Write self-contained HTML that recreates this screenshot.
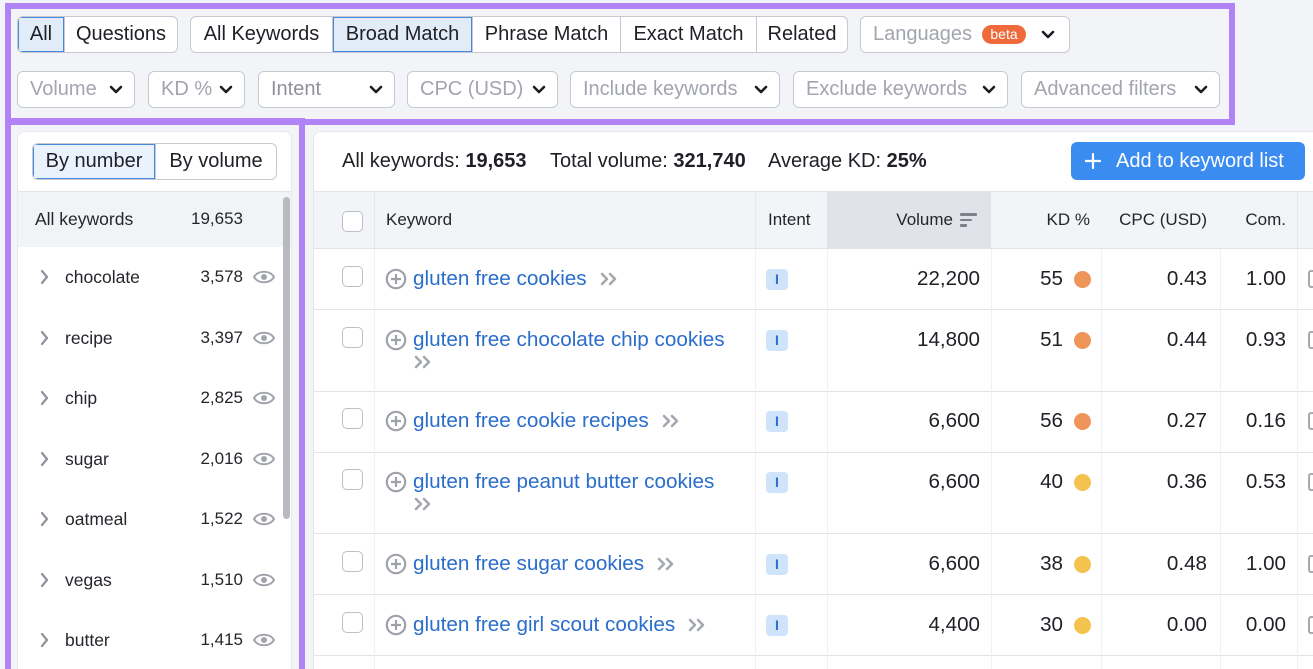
<!DOCTYPE html>
<html><head><meta charset="utf-8">
<style>
*{box-sizing:border-box}
html,body{margin:0;padding:0;width:1313px;height:669px;overflow:hidden}
body{background:#f3f4f8;font-family:"Liberation Sans",Arial,sans-serif;color:#1e2026}
#root{position:relative;width:1313px;height:669px;overflow:hidden;background:#f3f4f8}
.a{position:absolute}
.t{position:absolute;white-space:nowrap;line-height:24px;height:24px}
.grp{position:absolute;display:flex;border:1px solid #c6c9d1;border-radius:6px;background:#fff;overflow:hidden;height:37px}
.seg{display:flex;align-items:center;justify-content:center;font-size:20px;color:#1e2026;border-left:1px solid #c6c9d1;height:100%;white-space:nowrap}
.seg:first-child{border-left:none}
.sel{background:#e2ebf8;box-shadow:inset 0 0 0 1px #4688de}
.dd{position:absolute;height:37px;border:1px solid #c6c9d1;border-radius:6px;background:#fff;top:71px}
.dd .l{position:absolute;left:12px;top:4px;font-size:20px;line-height:26px;color:#a2a5ae;white-space:nowrap}
.dd svg{position:absolute;right:11px;top:13px}
.sb{font-size:17.5px;color:#24262c}
.sn{font-size:17px;color:#24262c}
.hd{font-size:17px;color:#24262c}
.kw{font-size:20.7px;color:#2a6dcb}
.num{font-size:20.6px;color:#1e2026}
.cb{position:absolute;width:21px;height:21px;border:1.5px solid #bcbfc7;border-radius:5px;background:#fff}
.hl{position:absolute;height:1px;background:#e3e4e9;left:314px;width:999px}
.vl{position:absolute;width:1px;background:#f0f1f4;top:249px;height:420px}
.ib{position:absolute;width:22px;height:21px;border-radius:4px;background:#cfe3fa;color:#2f6ecb;font-size:14px;font-weight:bold;text-align:center;line-height:21px}
.dot{position:absolute;width:17px;height:17px;border-radius:50%}
.pi{position:absolute;left:1308px;width:16px;height:18px;border:2px solid #a7a9b1;border-radius:3px}
.pur{position:absolute;border:6px solid #b283f6}
</style></head><body><div id="root">

<!-- top controls -->
<div class="grp" style="left:17px;top:16px;width:161px">
 <div class="seg sel" style="width:46px">All</div>
 <div class="seg" style="width:113px">Questions</div>
</div>
<div class="grp" style="left:190px;top:16px;width:658px">
 <div class="seg" style="width:141px">All Keywords</div>
 <div class="seg sel" style="width:140px">Broad Match</div>
 <div class="seg" style="width:148px">Phrase Match</div>
 <div class="seg" style="width:136px">Exact Match</div>
 <div class="seg" style="width:91px">Related</div>
</div>
<div class="dd" style="left:860px;top:16px;width:210px">
 <span class="l">Languages</span>
 <span class="a" style="left:121px;top:8px;width:44px;height:19px;border-radius:10px;background:#ef6a3a;color:#fff;font-size:14px;line-height:19px;text-align:center">beta</span>
 <svg width="14" height="9" viewBox="0 0 14 9" style="right:14px"><path d="M2 2l5 5 5-5" fill="none" stroke="#1c1d22" stroke-width="2.6" stroke-linecap="round" stroke-linejoin="round"/></svg>
</div>

<div class="dd" style="left:17px;width:118px"><span class="l">Volume</span><svg width="14" height="9" viewBox="0 0 14 9"><path d="M2 2l5 5 5-5" fill="none" stroke="#1c1d22" stroke-width="2.6" stroke-linecap="round" stroke-linejoin="round"/></svg></div>
<div class="dd" style="left:148px;width:97px"><span class="l">KD %</span><svg width="14" height="9" viewBox="0 0 14 9"><path d="M2 2l5 5 5-5" fill="none" stroke="#1c1d22" stroke-width="2.6" stroke-linecap="round" stroke-linejoin="round"/></svg></div>
<div class="dd" style="left:258px;width:137px"><span class="l" style="color:#8f929b">Intent</span><svg width="14" height="9" viewBox="0 0 14 9"><path d="M2 2l5 5 5-5" fill="none" stroke="#1c1d22" stroke-width="2.6" stroke-linecap="round" stroke-linejoin="round"/></svg></div>
<div class="dd" style="left:407px;width:151px"><span class="l">CPC (USD)</span><svg width="14" height="9" viewBox="0 0 14 9"><path d="M2 2l5 5 5-5" fill="none" stroke="#1c1d22" stroke-width="2.6" stroke-linecap="round" stroke-linejoin="round"/></svg></div>
<div class="dd" style="left:570px;width:210px"><span class="l">Include keywords</span><svg width="14" height="9" viewBox="0 0 14 9"><path d="M2 2l5 5 5-5" fill="none" stroke="#1c1d22" stroke-width="2.6" stroke-linecap="round" stroke-linejoin="round"/></svg></div>
<div class="dd" style="left:793px;width:215px"><span class="l">Exclude keywords</span><svg width="14" height="9" viewBox="0 0 14 9"><path d="M2 2l5 5 5-5" fill="none" stroke="#1c1d22" stroke-width="2.6" stroke-linecap="round" stroke-linejoin="round"/></svg></div>
<div class="dd" style="left:1021px;width:199px"><span class="l">Advanced filters</span><svg width="14" height="9" viewBox="0 0 14 9"><path d="M2 2l5 5 5-5" fill="none" stroke="#1c1d22" stroke-width="2.6" stroke-linecap="round" stroke-linejoin="round"/></svg></div>

<!-- sidebar -->
<div class="a" style="left:17px;top:131px;width:275px;height:560px;background:#fff;border-radius:8px;border:1px solid #e8e9ed"></div>
<div class="grp" style="left:32px;top:143px;width:245px">
 <div class="seg sel" style="width:122px;background:#eaf2fd">By number</div>
 <div class="seg" style="width:121px">By volume</div>
</div>
<div class="a" style="left:18px;top:191px;width:273px;height:1px;background:#e3e4e9"></div>
<div class="a" style="left:18px;top:192px;width:273px;height:55px;background:#f2f3f7"></div>
<span class="t sb" style="left:35px;top:207px">All keywords</span>
<span class="t sn" style="right:1070px;top:207px">19,653</span>
<div class="a" style="left:283px;top:197px;width:7px;height:322px;border-radius:4px;background:#b9bac0"></div>

<svg class="a" style="left:0;top:0" width="300" height="669">
 <g fill="none" stroke="#8f929a" stroke-width="2.2" stroke-linecap="round" stroke-linejoin="round">
  <path d="M42 271l5 6-5 6"/><path d="M42 332l5 6-5 6"/><path d="M42 392l5 6-5 6"/><path d="M42 453l5 6-5 6"/><path d="M42 513l5 6-5 6"/><path d="M42 574l5 6-5 6"/><path d="M42 634l5 6-5 6"/>
 </g>
 <g fill="none" stroke="#a2a4ac" stroke-width="2">
  <path d="M254 277C258 270 270 270 274 277C270 284 258 284 254 277Z"/>
  <path d="M254 338C258 331 270 331 274 338C270 345 258 345 254 338Z"/>
  <path d="M254 398C258 391 270 391 274 398C270 405 258 405 254 398Z"/>
  <path d="M254 459C258 452 270 452 274 459C270 466 258 466 254 459Z"/>
  <path d="M254 519C258 512 270 512 274 519C270 526 258 526 254 519Z"/>
  <path d="M254 580C258 573 270 573 274 580C270 587 258 587 254 580Z"/>
  <path d="M254 640C258 633 270 633 274 640C270 647 258 647 254 640Z"/>
 </g>
 <g fill="#a2a4ac">
  <circle cx="264" cy="277" r="3"/><circle cx="264" cy="338" r="3"/><circle cx="264" cy="398" r="3"/><circle cx="264" cy="459" r="3"/><circle cx="264" cy="519" r="3"/><circle cx="264" cy="580" r="3"/><circle cx="264" cy="640" r="3"/>
 </g>
</svg>
<span class="t sb" style="left:65px;top:265px">chocolate</span><span class="t sn" style="right:1070px;top:265px">3,578</span>
<span class="t sb" style="left:65px;top:326px">recipe</span><span class="t sn" style="right:1070px;top:326px">3,397</span>
<span class="t sb" style="left:65px;top:386px">chip</span><span class="t sn" style="right:1070px;top:386px">2,825</span>
<span class="t sb" style="left:65px;top:447px">sugar</span><span class="t sn" style="right:1070px;top:447px">2,016</span>
<span class="t sb" style="left:65px;top:507px">oatmeal</span><span class="t sn" style="right:1070px;top:507px">1,522</span>
<span class="t sb" style="left:65px;top:568px">vegas</span><span class="t sn" style="right:1070px;top:568px">1,510</span>
<span class="t sb" style="left:65px;top:628px">butter</span><span class="t sn" style="right:1070px;top:628px">1,415</span>

<!-- table card -->
<div class="a" style="left:313px;top:131px;width:1010px;height:560px;background:#fff;border-radius:8px;border:1px solid #e5e6ea"></div>
<span class="t" style="left:342px;top:149px;font-size:20px">All keywords: <b>19,653</b></span>
<span class="t" style="left:550px;top:149px;font-size:20px">Total volume: <b>321,740</b></span>
<span class="t" style="left:768px;top:149px;font-size:20px">Average KD: <b>25%</b></span>
<div class="a" style="left:1071px;top:142px;width:234px;height:38px;border-radius:6px;background:#3b8cf0"></div>
<svg class="a" style="left:1085px;top:153px" width="16" height="16"><path d="M8 1v14M1 8h14" stroke="#fff" stroke-width="2.2" stroke-linecap="round"/></svg>
<span class="t" style="left:1116px;top:149px;font-size:20px;color:#fff">Add to keyword list</span>

<!-- header -->
<div class="a" style="left:314px;top:191px;width:999px;height:58px;background:#f3f4f8;border-top:1px solid #e3e4e9;border-bottom:1px solid #e1e2e7"></div>
<div class="a" style="left:827px;top:192px;width:164px;height:56px;background:#e2e3ea"></div>
<div class="a" style="left:374px;top:192px;width:1px;height:56px;background:#e8e9ed"></div>
<div class="a" style="left:755px;top:192px;width:1px;height:56px;background:#e8e9ed"></div>
<div class="cb" style="left:342px;top:211px"></div>
<span class="t hd" style="left:386px;top:208px">Keyword</span>
<span class="t hd" style="left:768px;top:208px">Intent</span>
<span class="t hd" style="right:360px;top:208px">Volume</span>
<div class="a" style="left:960px;top:213px;width:17px;height:2.5px;background:#7e8189;border-radius:1px"></div>
<div class="a" style="left:960px;top:218.5px;width:12px;height:2.5px;background:#7e8189;border-radius:1px"></div>
<div class="a" style="left:960px;top:224px;width:7px;height:2.5px;background:#7e8189;border-radius:1px"></div>
<span class="t hd" style="right:223px;top:208px">KD %</span>
<span class="t hd" style="right:106px;top:208px">CPC (USD)</span>
<span class="t hd" style="right:27px;top:208px">Com.</span>
<div class="a" style="left:1297px;top:192px;width:1px;height:56px;background:#e8e9ed"></div>

<!-- row lines -->
<div class="hl" style="top:309px"></div>
<div class="hl" style="top:391px"></div>
<div class="hl" style="top:452px"></div>
<div class="hl" style="top:533px"></div>
<div class="hl" style="top:594px"></div>
<div class="hl" style="top:655px"></div>
<div class="vl" style="left:374px"></div>
<div class="vl" style="left:755px"></div>
<div class="vl" style="left:827px"></div>
<div class="vl" style="left:991px"></div>
<div class="vl" style="left:1101px"></div>
<div class="vl" style="left:1220px"></div>
<div class="vl" style="left:1297px"></div>

<!-- plus icons -->
<svg class="a" style="left:0;top:0" width="1313" height="669">
 <g fill="none" stroke="#9ea1aa" stroke-width="2.2">
  <circle cx="396" cy="279" r="9.2"/><circle cx="396" cy="340" r="9.2"/><circle cx="396" cy="421" r="9.2"/><circle cx="396" cy="482" r="9.2"/><circle cx="396" cy="564" r="9.2"/><circle cx="396" cy="625" r="9.2"/>
  <path d="M396 274v10M391 279h10M396 335v10M391 340h10M396 416v10M391 421h10M396 477v10M391 482h10M396 559v10M391 564h10M396 620v10M391 625h10"/>
 </g>
 <g fill="none" stroke="#a6a8b0" stroke-width="2.6" stroke-linecap="round" stroke-linejoin="round">
  <path d="M416 357l5 5-5 5M424 357l5 5-5 5"/>
  <path d="M416 499l5 5-5 5M424 499l5 5-5 5"/>
 </g>
</svg>

<!-- rows -->
<div class="cb" style="left:342px;top:266px"></div>
<span class="t kw" style="left:413px;top:267px">gluten free cookies<svg width="22" height="14" viewBox="0 0 22 14" style="margin-left:12px;vertical-align:-1px"><path d="M3 2l5 5-5 5M11 2l5 5-5 5" fill="none" stroke="#a6a8b0" stroke-width="2.6" stroke-linecap="round" stroke-linejoin="round"/></svg></span>
<div class="ib" style="left:766px;top:269px">I</div>
<span class="t num" style="right:333px;top:267px">22,200</span>
<span class="t num" style="right:250px;top:267px">55</span><div class="dot" style="left:1074px;top:271px;background:#f0955a"></div>
<span class="t num" style="right:106px;top:267px">0.43</span>
<span class="t num" style="right:27px;top:267px">1.00</span>
<div class="pi" style="top:270px"></div>

<div class="cb" style="left:342px;top:327px"></div>
<span class="t kw" style="left:413px;top:328px">gluten free chocolate chip cookies</span>
<div class="ib" style="left:766px;top:330px">I</div>
<span class="t num" style="right:333px;top:328px">14,800</span>
<span class="t num" style="right:250px;top:328px">51</span><div class="dot" style="left:1074px;top:332px;background:#f0955a"></div>
<span class="t num" style="right:106px;top:328px">0.44</span>
<span class="t num" style="right:27px;top:328px">0.93</span>
<div class="pi" style="top:331px"></div>

<div class="cb" style="left:342px;top:408px"></div>
<span class="t kw" style="left:413px;top:409px">gluten free cookie recipes<svg width="22" height="14" viewBox="0 0 22 14" style="margin-left:12px;vertical-align:-1px"><path d="M3 2l5 5-5 5M11 2l5 5-5 5" fill="none" stroke="#a6a8b0" stroke-width="2.6" stroke-linecap="round" stroke-linejoin="round"/></svg></span>
<div class="ib" style="left:766px;top:411px">I</div>
<span class="t num" style="right:333px;top:409px">6,600</span>
<span class="t num" style="right:250px;top:409px">56</span><div class="dot" style="left:1074px;top:413px;background:#f0955a"></div>
<span class="t num" style="right:106px;top:409px">0.27</span>
<span class="t num" style="right:27px;top:409px">0.16</span>
<div class="pi" style="top:412px"></div>

<div class="cb" style="left:342px;top:469px"></div>
<span class="t kw" style="left:413px;top:470px">gluten free peanut butter cookies</span>
<div class="ib" style="left:766px;top:472px">I</div>
<span class="t num" style="right:333px;top:470px">6,600</span>
<span class="t num" style="right:250px;top:470px">40</span><div class="dot" style="left:1074px;top:474px;background:#f4c24f"></div>
<span class="t num" style="right:106px;top:470px">0.36</span>
<span class="t num" style="right:27px;top:470px">0.53</span>
<div class="pi" style="top:473px"></div>

<div class="cb" style="left:342px;top:551px"></div>
<span class="t kw" style="left:413px;top:552px">gluten free sugar cookies<svg width="22" height="14" viewBox="0 0 22 14" style="margin-left:12px;vertical-align:-1px"><path d="M3 2l5 5-5 5M11 2l5 5-5 5" fill="none" stroke="#a6a8b0" stroke-width="2.6" stroke-linecap="round" stroke-linejoin="round"/></svg></span>
<div class="ib" style="left:766px;top:554px">I</div>
<span class="t num" style="right:333px;top:552px">6,600</span>
<span class="t num" style="right:250px;top:552px">38</span><div class="dot" style="left:1074px;top:556px;background:#f4c24f"></div>
<span class="t num" style="right:106px;top:552px">0.48</span>
<span class="t num" style="right:27px;top:552px">1.00</span>
<div class="pi" style="top:555px"></div>

<div class="cb" style="left:342px;top:612px"></div>
<span class="t kw" style="left:413px;top:613px">gluten free girl scout cookies<svg width="22" height="14" viewBox="0 0 22 14" style="margin-left:12px;vertical-align:-1px"><path d="M3 2l5 5-5 5M11 2l5 5-5 5" fill="none" stroke="#a6a8b0" stroke-width="2.6" stroke-linecap="round" stroke-linejoin="round"/></svg></span>
<div class="ib" style="left:766px;top:615px">I</div>
<span class="t num" style="right:333px;top:613px">4,400</span>
<span class="t num" style="right:250px;top:613px">30</span><div class="dot" style="left:1074px;top:617px;background:#f4c24f"></div>
<span class="t num" style="right:106px;top:613px">0.00</span>
<span class="t num" style="right:27px;top:613px">0.00</span>
<div class="pi" style="top:616px"></div>

<!-- purple highlight boxes -->
<div class="pur" style="left:5px;top:3px;width:1230px;height:122px"></div>
<div class="pur" style="left:5px;top:118px;width:300px;height:570px"></div>

</div></body></html>
